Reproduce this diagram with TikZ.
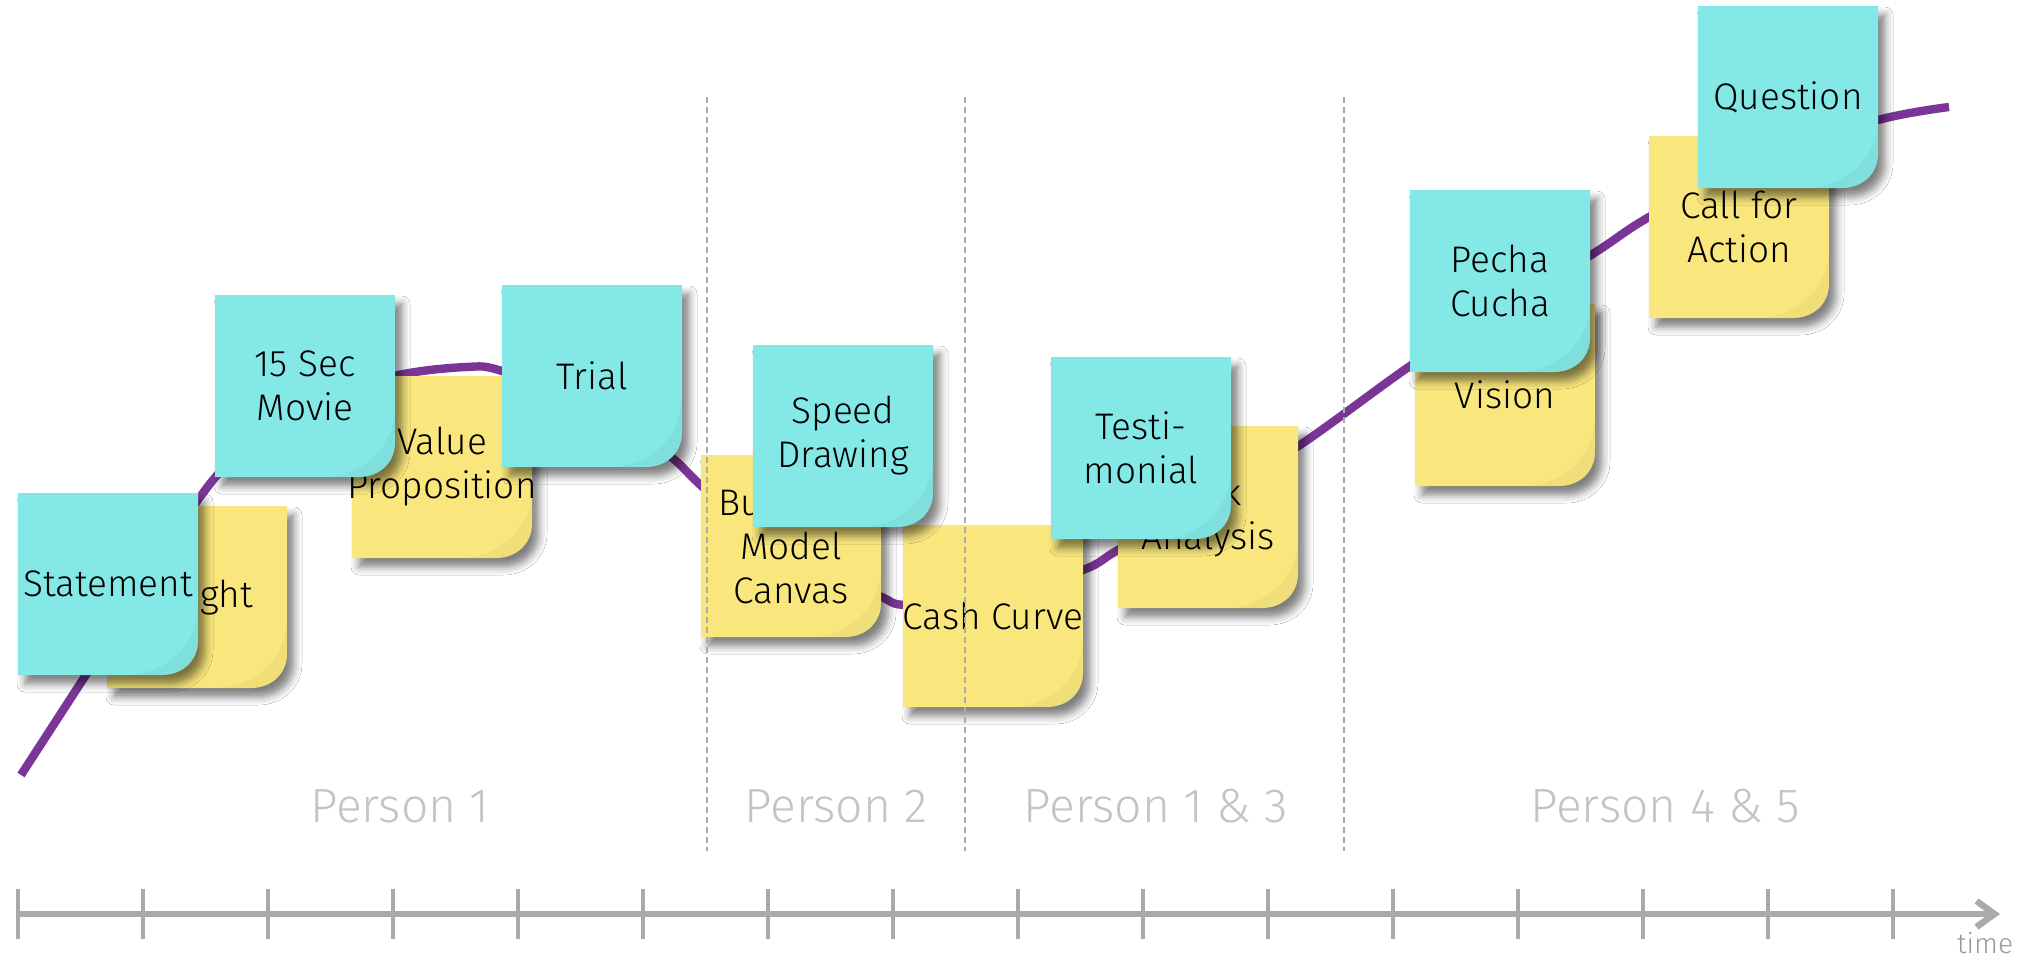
\documentclass[tikz,border=0pt]{standalone}
\usepackage{fontspec}
\setmainfont{Fira Sans}[UprightFont=* Light]
\usetikzlibrary{shadows.blur,arrows.meta}
\definecolor{notecyan}{HTML}{84E8E6}
\definecolor{noteyellow}{HTML}{F9E77D}
\definecolor{curvepurple}{HTML}{7B3596}
\definecolor{axisgray}{HTML}{AAAAAA}
\definecolor{labelgray}{HTML}{C4C4C4}
\tikzset{
  notetext/.style={align=center, font=\fontsize{18.5}{22}\selectfont, text=black, inner sep=0pt},
  personlbl/.style={font=\fontsize{24}{28}\selectfont, text=labelgray, inner sep=0pt},
  sepline/.style={axisgray, line width=0.6pt, dash pattern=on 3pt off 2pt},
  tickline/.style={axisgray, line width=1.75pt},
  notebody/.style={blur shadow={shadow xshift=3.5pt, shadow yshift=-4.5pt, shadow blur radius=4pt, shadow opacity=50}}
}
\newcommand\stickynote[5]{%
  \fill[#3, notebody]
    (#1,#2) -- (#1+180,#2) -- (#1+180,#2+148) .. controls (#1+180,#2+168) and (#1+164,#2+182) .. (#1+144,#2+182) -- (#1,#2+182) -- cycle;
  \fill[#3!75!black, opacity=0.14]
    (#1+180,#2+118) -- (#1+180,#2+148) .. controls (#1+180,#2+168) and (#1+164,#2+182) .. (#1+144,#2+182) -- (#1+116,#2+182) .. controls (#1+150,#2+176) and (#1+175,#2+156) .. cycle;
  \node[notetext] (#4) at (#1+90,#2+91) {#5};
}
\begin{document}
\begin{tikzpicture}[x=0.5pt,y=-0.5pt]
\fill[white] (0,0) rectangle (2028,960);
\useasboundingbox (0,0) rectangle (2028,960);

% timeline
\coordinate (axs) at (18,914);
\coordinate (axe) at (2000,914);
\draw[axisgray, line width=3.25pt, -{Straight Barb[length=9pt,width=13pt]}] (axs) -- (axe);
\foreach \i in {0,...,15} {
  \draw[tickline] (18+125*\i,889) -- (18+125*\i,939);
}
\node[font=\fontsize{14}{16}\selectfont, text=axisgray!90!black, inner sep=0pt] (timelbl) at (1985,943) {time};

% person labels
\node[personlbl] (p1) at (400,806) {Person 1};
\node[personlbl] (p2) at (836,806) {Person 2};
\node[personlbl] (p13) at (1156,806) {Person 1 \& 3};
\node[personlbl] (p45) at (1665,806) {Person 4 \& 5};

% purple curve
\draw[curvepurple, line width=4.2pt] plot[smooth, tension=0.55] coordinates {
 (21,775) (117,627) (213,480) (300,405) (394,376) (466,367) (502,371)
 (590,405) (666,453) (705,489) (790,560) (877,595) (906,605) (990,600)
 (1083,570) (1118,550) (1210,497) (1297,447) (1410,366) (1500,308)
 (1591,255) (1649,217) (1760,158) (1878,120) (1949,107)};

% notes
\stickynote{107}{506}{noteyellow}{insight}{Insight}
\stickynote{18}{493}{notecyan}{statement}{Statement}
\stickynote{352}{376}{noteyellow}{valueprop}{Value\\Proposition}
\stickynote{215}{295}{notecyan}{movie}{15 Sec\\Movie}
\stickynote{502}{285}{notecyan}{trial}{Trial}
\stickynote{701}{455}{noteyellow}{bmc}{Business\\Model\\Canvas}
\stickynote{903}{525}{noteyellow}{cashcurve}{Cash Curve}
\stickynote{753}{345}{notecyan}{speed}{Speed\\Drawing}
\stickynote{1118}{426}{noteyellow}{risk}{Risk\\Analysis}
\stickynote{1051}{357}{notecyan}{testimonial}{Testi-\\monial}
\stickynote{1415}{304}{noteyellow}{vision}{Vision}
\stickynote{1410}{190}{notecyan}{pecha}{Pecha\\Cucha}
\stickynote{1649}{136}{noteyellow}{callaction}{Call for\\Action}
\stickynote{1698}{6}{notecyan}{question}{Question}

% dashed separators
\coordinate (s1t) at (707,97); \coordinate (s1b) at (707,851);
\coordinate (s2t) at (965,97); \coordinate (s2b) at (965,851);
\coordinate (s3t) at (1344,97); \coordinate (s3b) at (1344,851);
\draw[sepline] (s1t) -- (s1b);
\draw[sepline] (s2t) -- (s2b);
\draw[sepline] (s3t) -- (s3b);
\end{tikzpicture}
\end{document}
